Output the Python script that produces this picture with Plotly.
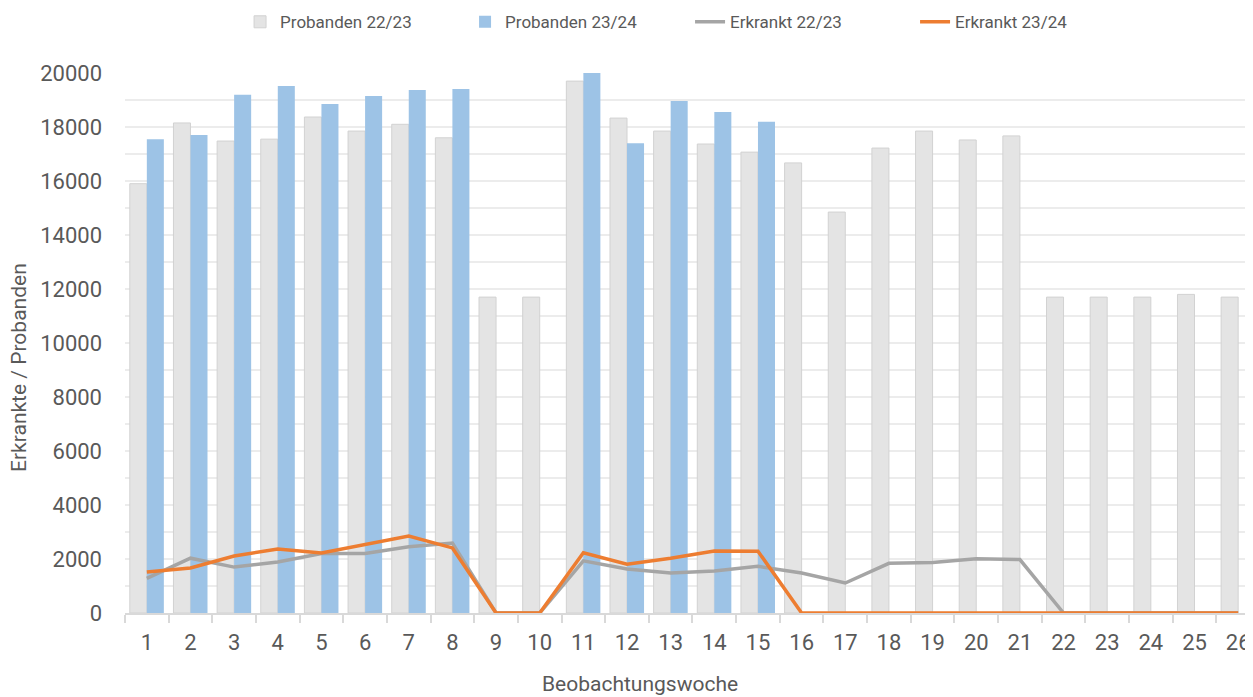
import plotly.graph_objects as go

weeks = list(range(1, 27))
tick_labels = [str(w) for w in weeks]

probanden_2223 = [15900, 18150, 17480, 17550, 18370, 17850, 18100, 17600, 11700, 11700,
                  19700, 18330, 17850, 17370, 17070, 16670, 14850, 17220, 17850, 17520,
                  17670, 11700, 11700, 11700, 11800, 11700]
probanden_2324 = [17550, 17700, 19190, 19520, 18850, 19150, 19370, 19410, None, None,
                  20000, 17400, 18960, 18560, 18190, None, None, None, None, None,
                  None, None, None, None, None, None]
erkrankt_2223 = [1280, 2030, 1700, 1890, 2200, 2200, 2450, 2590, 0, 0,
                 1930, 1630, 1480, 1560, 1730, 1480, 1110, 1840, 1870, 2010,
                 1980, 0, 0, 0, 0, 0]
erkrankt_2324 = [1520, 1670, 2110, 2370, 2220, 2520, 2850, 2410, 0, 0,
                 2230, 1810, 2030, 2300, 2290, 0, 0, 0, 0, 0,
                 0, 0, 0, 0, 0, 0]

x_title = "Beobachtungswoche"
y_title = "Erkrankte / Probanden"

FONT = "Roboto, Liberation Sans, sans-serif"
TXT = "#595959"

fig = go.Figure()
fig.add_trace(go.Bar(x=weeks, y=probanden_2223, name="Probanden 22/23",
                     marker=dict(color="#e4e4e4", line=dict(color="#d2d2d2", width=1))))
fig.add_trace(go.Bar(x=weeks, y=probanden_2324, name="Probanden 23/24",
                     marker=dict(color="#9dc3e6", line=dict(color="#9dc3e6", width=0))))
fig.add_trace(go.Scatter(x=weeks, y=erkrankt_2223, name="Erkrankt 22/23", mode="lines",
                         line=dict(color="#a5a5a5", width=3.5)))
fig.add_trace(go.Scatter(x=weeks, y=erkrankt_2324, name="Erkrankt 23/24", mode="lines",
                         line=dict(color="#ed7d31", width=3.5)))

fig.update_layout(
    width=1245, height=689,
    margin=dict(l=117, r=0, t=65, b=84, autoexpand=False),
    paper_bgcolor="white", plot_bgcolor="white",
    font=dict(family=FONT, color=TXT),
    barmode="group", bargap=0.22, bargroupgap=0,
    showlegend=True,
    legend=dict(orientation="h", x=0.102, xanchor="left", y=1.094, yanchor="middle",
                font=dict(size=17, color=TXT), itemwidth=30, traceorder="normal",
                entrywidth=180, entrywidthmode="pixels"),
    annotations=[
        dict(text=x_title, xref="paper", yref="paper", x=0.4566, y=-0.1315,
             xanchor="center", yanchor="middle", showarrow=False,
             font=dict(size=21, color=TXT)),
        dict(text=y_title, xref="paper", yref="paper", x=-0.094, y=0.4556,
             xanchor="center", yanchor="middle", showarrow=False, textangle=-90,
             font=dict(size=21, color=TXT)),
    ],
)
fig.update_xaxes(
    range=[0.5, 26.34], automargin=False,
    tickmode="array", tickvals=weeks, ticktext=tick_labels,
    ticks="", tickfont=dict(size=22, color=TXT), ticklabelstandoff=9,
    showgrid=False, zeroline=False,
    showline=True, linecolor="#d9d9d9", linewidth=2,
    minor=dict(tickmode="array", tickvals=[w - 0.5 for w in weeks] + [26.5],
               ticks="outside", ticklen=8, tickcolor="#d9d9d9", tickwidth=2, showgrid=False),
)
fig.update_yaxes(
    range=[0, 20000], dtick=2000, tick0=0, tickformat="d", automargin=False,
    tickfont=dict(size=22, color=TXT), ticklabelstandoff=22,
    showgrid=True, gridcolor="#ececec", gridwidth=1.5,
    minor=dict(dtick=1000, showgrid=True, gridcolor="#ececec", gridwidth=1.5),
    zeroline=False, showline=False, ticks="",
)

fig.write_html("out.html")
